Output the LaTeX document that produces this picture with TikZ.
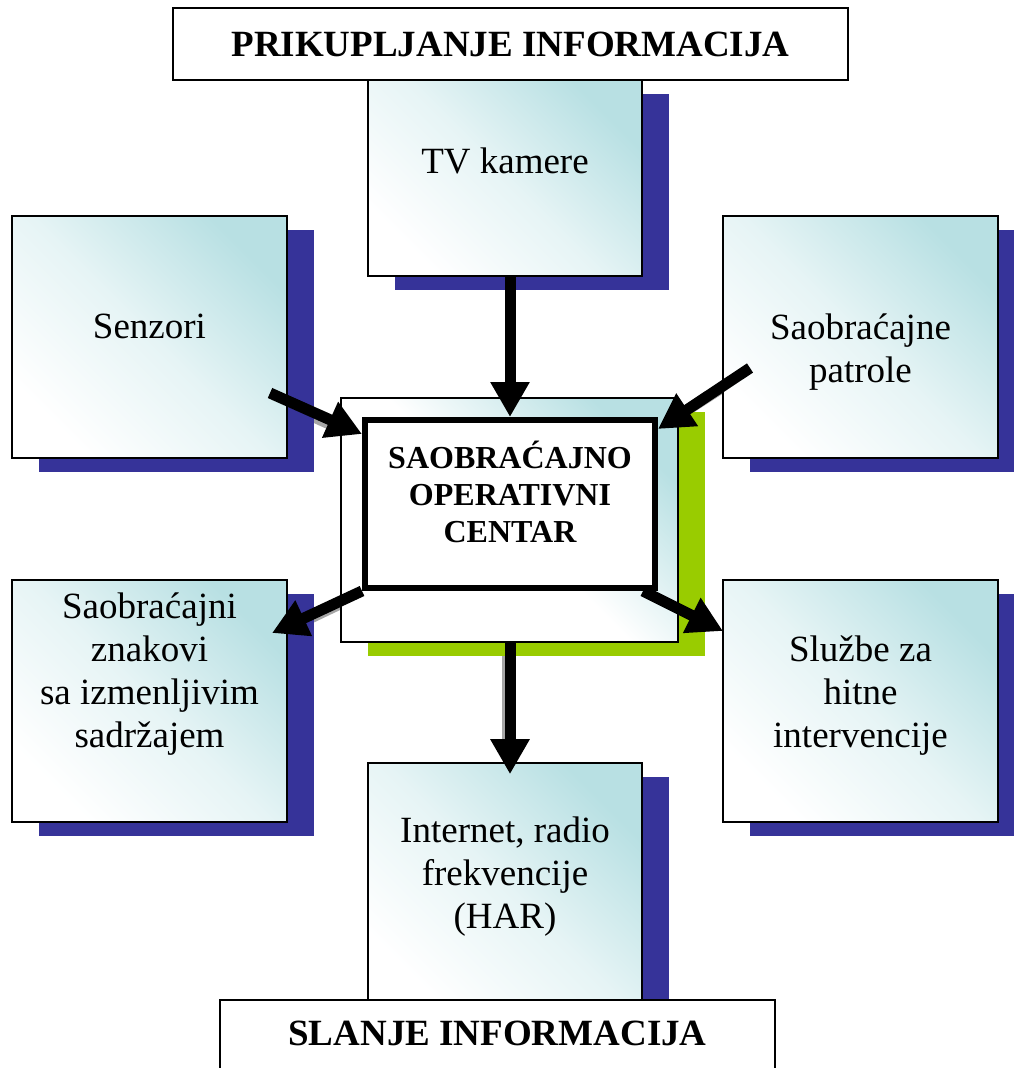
\documentclass[tikz,border=0pt]{standalone}
\usepackage{fontspec}
\setmainfont{Liberation Serif}
\usetikzlibrary{arrows.meta,shadows}
\definecolor{boxteal}{RGB}{184,224,227}
\definecolor{shadowblue}{RGB}{54,51,153}
\definecolor{limegreen}{RGB}{153,204,0}
\tikzset{
  infobox/.style={rectangle, draw, line width=1.6pt, inner sep=0pt,
    top color=boxteal, bottom color=white, middle color=boxteal!35, shading angle=-45,
    drop shadow={shadow xshift=27pt, shadow yshift=-14pt, fill=shadowblue, opacity=1}},
  framebox/.style={rectangle, draw, line width=1.4pt, inner sep=0pt,
    top color=boxteal, bottom color=white, middle color=white, shading angle=-45,
    drop shadow={shadow xshift=27pt, shadow yshift=-14pt, fill=limegreen, opacity=1}},
  centerbox/.style={rectangle, draw, line width=6pt, fill=white, inner sep=0pt},
  banner/.style={rectangle, draw, line width=1.6pt, fill=white, font=\bfseries\fontsize{37}{43}\selectfont},
  txt/.style={align=center, font=\fontsize{37}{43}\selectfont},
  arr/.style={line width=11pt, -{Triangle[length=35pt,width=37pt]}},
  arrshade/.style={line width=11pt, draw=gray!70}
}
\begin{document}
\begin{tikzpicture}[x=1pt, y=-1pt]
\useasboundingbox (0,0) rectangle (1013,1068);

% free ends of the connectors
\coordinate (senzout) at (270,393);
\coordinate (patrout) at (750,368);
\coordinate (znakin) at (272,633);
\coordinate (sluzin) at (723,631);

% faint arrow shadows behind the boxes
\begin{scope}[shift={(-2,3)}]
\draw[arrshade] (270,393) -- (340,425);
\draw[arrshade] (750,368) -- (680,413);
\draw[arrshade] (365,590) -- (300,621);
\draw[arrshade] (640,590) -- (700,620);
\draw[arrshade] (509,642) -- (509,745);
\end{scope}

% collecting side
\node[infobox, minimum width=274pt, minimum height=196pt] (tv) at (505,178) {};
\node[banner, minimum width=675pt, minimum height=72pt] (prik) at (510.5,44) {PRIKUPLJANJE INFORMACIJA};
\node[infobox, minimum width=275pt, minimum height=242pt] (senz) at (149.5,337) {};
\node[infobox, minimum width=275pt, minimum height=242pt] (patr) at (860.5,337) {};

% sending side
\node[infobox, minimum width=275pt, minimum height=242pt] (znak) at (149.5,701) {};
\node[infobox, minimum width=275pt, minimum height=242pt] (sluz) at (860.5,701) {};
\node[infobox, minimum width=274pt, minimum height=247pt] (inet) at (505,886.5) {};
\node[banner, anchor=base, text height=30pt, text depth=40pt, inner ysep=15pt, minimum width=555pt] (slanje) at (497.5,1045) {SLANJE INFORMACIJA};

% centre
\node[framebox, minimum width=337pt, minimum height=244pt] (socframe) at (509.5,520) {};
\node[centerbox, minimum width=290pt, minimum height=168pt] (soc) at (510,504) {};

% texts
\node[txt] (tvT) at ([yshift=17pt]tv.center) {TV kamere};
\node[txt] (senzT) at ([yshift=11pt]senz.center) {Senzori};
\node[txt] (patrT) at ([yshift=-15pt]patr.center) {Saobraćajne\\patrole};
\node[txt] (znakT) at ([yshift=27pt]znak.center) {Saobraćajni\\znakovi\\sa izmenljivim\\sadržajem};
\node[txt] (sluzT) at ([yshift=5pt]sluz.center) {Službe za\\hitne\\intervencije};
\node[txt] (inetT) at ([yshift=10pt]inet.center) {Internet, radio\\frekvencije\\(HAR)};
\node[align=center, font=\bfseries\fontsize{32}{37}\selectfont] (socT) at ([yshift=12pt]soc.center) {SAOBRAĆAJNO\\OPERATIVNI\\CENTAR};

% connectors
\draw[arr] (tv.south -| soc.north) -- (soc.north);
\draw[arr] (senzout) -- ([yshift=-17pt]soc.north west);
\draw[arr] (patrout) -- ([yshift=-12pt]soc.north east);
\draw[arr] (soc.south west) -- (znakin);
\draw[arr] ([xshift=-15pt]soc.south east) -- (sluzin);
\draw[arr] (socframe.south -| soc.south) -- ([yshift=-12pt]inet.north -| soc.south);
\end{tikzpicture}
\end{document}
